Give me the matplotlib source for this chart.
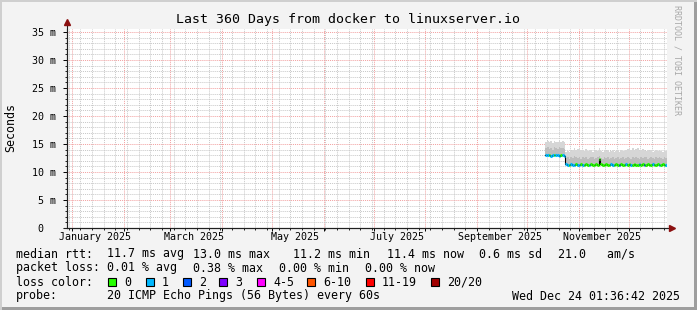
import numpy as np
import pandas as pd
import matplotlib
matplotlib.use("Agg")
import matplotlib.pyplot as plt
import matplotlib.dates as mdates
from matplotlib.patches import Rectangle
from matplotlib.lines import Line2D

W, H = 697, 310
plt.rcParams['font.family'] = ['DejaVu Sans Mono']

# time window shown (360 days)
t_start = pd.Timestamp("2024-12-29 01:36:42")
t_end = pd.Timestamp("2025-12-24 01:36:42")

# daily samples, Oct 12 .. Dec 24 2025
days = pd.date_range("2025-10-12", "2025-12-24", freq="D")

median_ms = [
    13.0, 13.1, 13.0, 12.9, 13.0, 13.0, 13.1, 13.0, 12.9, 13.0, 13.0, 12.9,
    11.4, 11.3, 11.3, 11.4, 11.3, 11.3, 11.4, 11.3,
    11.3, 11.4, 11.3, 11.3, 11.4, 11.3, 11.3, 11.4, 11.3, 11.3, 11.4, 11.3,
    12.4, 11.4, 11.3, 11.3, 11.4, 11.3, 11.3, 11.4, 11.3, 11.3, 11.4, 11.3,
    11.3, 11.4, 11.3, 11.3, 11.4, 11.3,
    11.4, 11.3, 11.3, 11.4, 11.3, 11.3, 11.4, 11.3, 11.4, 11.3, 11.3, 11.4,
    11.3, 11.3, 11.4, 11.3, 11.3, 11.4, 11.3, 11.3, 11.4, 11.3, 11.3, 11.4,
]
smoke_mid = [
    14.2, 14.4, 14.1, 14.3, 14.0, 14.4, 14.2, 14.1, 14.5, 14.2, 14.3, 14.1,
    12.5, 12.6, 12.4, 12.7, 12.5, 12.8, 12.6, 12.5,
    12.6, 12.4, 12.7, 12.5, 12.6, 12.4, 12.5, 12.7, 12.6, 12.4, 12.5, 12.6,
    12.9, 12.5, 12.4, 12.6, 12.5, 12.7, 12.4, 12.5, 12.6, 12.4, 12.5, 12.6,
    12.4, 12.5, 12.6, 12.4, 12.5, 12.6,
    12.5, 12.4, 12.6, 12.5, 12.7, 12.5, 12.4, 12.6, 12.5, 12.7, 12.6, 12.4,
    12.5, 12.6, 12.5, 12.4, 12.6, 12.5, 12.7, 12.5, 12.4, 12.6, 12.5, 12.4,
]
smoke_hi = [
    15.4, 15.6, 15.3, 15.5, 15.2, 15.6, 15.4, 15.3, 15.7, 15.4, 15.5, 15.3,
    13.6, 13.8, 13.5, 13.7, 14.0, 14.2, 13.9, 14.1,
    14.2, 13.9, 14.0, 13.8, 14.1, 13.7, 13.9, 14.0, 13.6, 13.8, 13.9, 13.7,
    14.3, 13.8, 13.6, 13.9, 13.7, 14.0, 13.6, 13.8, 13.9, 13.5, 13.7, 13.9,
    13.6, 14.0, 13.8, 13.7, 13.9, 14.1,
    14.2, 14.0, 14.3, 13.9, 14.1, 14.2, 13.8, 14.0, 14.1, 13.9, 13.7, 13.9,
    13.8, 14.0, 13.6, 13.8, 13.9, 13.7, 14.0, 13.8, 13.6, 13.9, 13.7, 13.5,
]
# lost pings (out of 20) per day, drives the median line colour
lost = [
    1, 1, 0, 1, 1, 0, 1, 1, 1, 0, 1, 1,
    1, 1, 0, 1, 1, 1, 0, 1,
    1, 0, 1, 0, 0, 0, 1, 0, 0, 0, 0, 0,
    0, 0, 0, 0, 0, 0, 0, 1, 1, 0, 0, 0,
    2, 0, 0, 0, 1, 0,
    0, 1, 0, 0, 0, 0, 1, 0, 0, 2, 0, 0,
    0, 0, 1, 0, 0, 0, 1, 0, 0, 0, 1, 0,
]

loss_labels = ["0", "1", "2", "3", "4-5", "6-10", "11-19", "20/20"]
loss_colors = ["#26ff00", "#00b8ff", "#0059ff", "#7e00ff",
               "#ff00ff", "#ff5500", "#ff0000", "#a10000"]

y_ticks = [0, 5, 10, 15, 20, 25, 30, 35]
y_ticklabels = ["0  ", "5 m", "10 m", "15 m", "20 m", "25 m", "30 m", "35 m"]
x_label_dates = ["2025-01-15", "2025-03-15", "2025-05-15",
                 "2025-07-15", "2025-09-15", "2025-11-15"]
x_labels = ["January 2025", "March 2025", "May 2025",
            "July 2025", "September 2025", "November 2025"]

title = "Last 360 Days from docker to linuxserver.io"
rtt_items = ["11.7 ms avg", "13.0 ms max", "11.2 ms min",
             "11.4 ms now", "0.6 ms sd", "21.0   am/s"]
pl_items = ["0.01 % avg", "0.38 % max", "0.00 % min", "0.00 % now"]
probe_text = "20 ICMP Echo Pings (56 Bytes) every 60s"
stamp = "Wed Dec 24 01:36:42 2025"


def fx(x):
    return x / W


def fy(y):
    return 1 - y / H


fig = plt.figure(figsize=(W / 100, H / 100), dpi=100)
fig.patch.set_facecolor("#f3f3f3")

# 3d-ish frame around the image
fig.add_artist(Rectangle((0, 0), 1, fy(307), transform=fig.transFigure,
                         color="#9e9e9e", lw=0, zorder=-2))
fig.add_artist(Rectangle((fx(694), 0), 1, 1, transform=fig.transFigure,
                         color="#9e9e9e", lw=0, zorder=-2))
fig.add_artist(Rectangle((0, fy(2)), 1, 1, transform=fig.transFigure,
                         color="#cfcfcf", lw=0, zorder=-2))
fig.add_artist(Rectangle((0, 0), fx(2), 1, transform=fig.transFigure,
                         color="#cfcfcf", lw=0, zorder=-2))

top_px, bot_px, left_px, right_px = 29, 228, 67, 667
ax = fig.add_axes([fx(left_px), fy(bot_px), fx(right_px - left_px),
                   (bot_px - top_px) / H])
ax.set_facecolor("white")
ax.set_xlim(t_start, t_end)
ax.set_ylim(0, (bot_px - top_px) / 5.6)

# smoke
width = pd.Timedelta(days=1)
med = np.array(median_ms)
ax.bar(days, np.array(smoke_hi) - med, bottom=med, width=width, align="edge",
       color="#d6d6d6", lw=0, zorder=2)
ax.bar(days, np.array(smoke_mid) - med, bottom=med, width=width, align="edge",
       color="#bdbdbd", lw=0, zorder=2)

# median line coloured by loss
ax.step(days, med, where="post", color="black", lw=0.8, zorder=3)
ax.hlines(med, days, days + width, colors=[loss_colors[k] for k in lost],
          lw=2.2, zorder=4)

# grid
ax.xaxis.set_major_locator(mdates.MonthLocator())
ax.xaxis.set_minor_locator(mdates.WeekdayLocator(byweekday=mdates.MO))
ax.set_yticks(y_ticks)
ax.set_yticks(np.arange(0, 36, 1), minor=True)
ax.grid(which="minor", color="#c8c8c8", lw=0.7, ls=(0, (1, 1)), zorder=0)
ax.grid(which="major", color="#f2a0a0", lw=0.7, ls=(0, (1, 1)), zorder=1)
ax.set_axisbelow(True)
ax.xaxis.set_major_formatter(plt.NullFormatter())
ax.set_yticklabels(y_ticklabels)
ax.tick_params(axis="y", which="major", length=3, width=0.7, pad=5,
               labelsize=7.2, colors="black")
ax.tick_params(axis="y", which="minor", length=1.5, width=0.6)
ax.tick_params(axis="x", which="major", length=2.5, width=0.7)
ax.tick_params(axis="x", which="minor", length=1.5, width=0.6)
for lbl_date, lbl in zip(x_label_dates, x_labels):
    ax.text(pd.Timestamp(lbl_date), -0.045, lbl, ha="center", va="center",
            fontsize=7.2, transform=ax.get_xaxis_transform())

for s in ["top", "right"]:
    ax.spines[s].set_visible(False)
ax.spines["left"].set_color("#202020")
ax.spines["bottom"].set_color("#202020")
ax.spines["left"].set_linewidth(0.8)
ax.spines["bottom"].set_linewidth(0.8)

# axis extensions and arrows
fig.add_artist(Line2D([fx(67), fx(67)], [fy(bot_px), fy(24)], color="#202020",
                      lw=0.8))
fig.add_artist(Line2D([fx(64), fx(670)], [fy(bot_px), fy(bot_px)],
                      color="#202020", lw=0.8))
fig.add_artist(Line2D([fx(67)], [fy(22)], marker="^", ms=4.5, color="#8b1010",
                      mec="#8b1010"))
fig.add_artist(Line2D([fx(672)], [fy(bot_px)], marker=">", ms=4.5,
                      color="#8b1010", mec="#8b1010"))

fig.text(fx(348), fy(19), title, ha="center", va="center", fontsize=9.5)
fig.text(fx(11), fy(128), "Seconds", rotation=90, ha="center", va="center",
         fontsize=8.4)
fig.text(fx(677), fy(5), "RRDTOOL / TOBI OETIKER", rotation=270, ha="center",
         va="top", fontsize=6, color="#a8a8a8")

fs = 8.35
row_y = [254, 268, 282, 296]
fig.text(fx(16), fy(row_y[0]), "median rtt:", va="center", fontsize=fs)
for x, t in zip([107, 193, 293, 387, 479, 558], rtt_items):
    fig.text(fx(x), fy(row_y[0]), t, va="center", fontsize=fs)
fig.text(fx(16), fy(row_y[1]), "packet loss:", va="center", fontsize=fs)
for x, t in zip([107, 193, 279, 365], pl_items):
    fig.text(fx(x), fy(row_y[1]), t, va="center", fontsize=fs)
fig.text(fx(16), fy(row_y[2]), "loss color:", va="center", fontsize=fs)
for x, lbl, c in zip([108, 146, 183, 219, 257, 307, 366, 431],
                     loss_labels, loss_colors):
    fig.add_artist(Rectangle((fx(x), fy(row_y[2] + 4)), fx(8), 8 / H,
                             transform=fig.transFigure, facecolor=c,
                             edgecolor="black", lw=0.8))
    fig.text(fx(x + 16), fy(row_y[2]), lbl, va="center", fontsize=fs)
fig.text(fx(16), fy(row_y[3]), "probe:", va="center", fontsize=fs)
fig.text(fx(107), fy(row_y[3]), probe_text, va="center", fontsize=fs)
fig.text(fx(680), fy(row_y[3]), stamp, ha="right", va="center", fontsize=fs)

fig.savefig("out.png", dpi=100, facecolor=fig.get_facecolor())
